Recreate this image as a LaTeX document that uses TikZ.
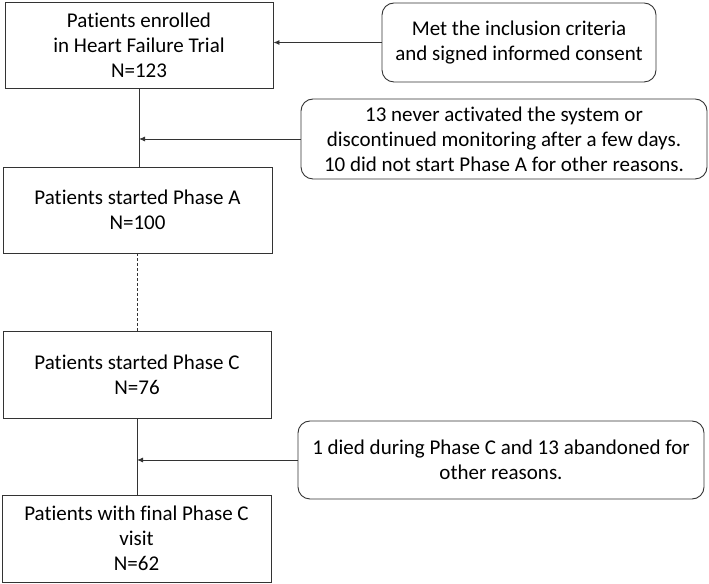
\documentclass[tikz,border=0pt]{standalone}
\usepackage{fontspec}
\setmainfont{Carlito}[Ligatures=CommonOff]
\usetikzlibrary{arrows.meta}
\begin{document}
\begin{tikzpicture}[x=1bp,y=1bp,
  every node/.style={font=\fontsize{21bp}{25bp}\selectfont, align=center, inner sep=0pt},
  mainbox/.style={draw=black!80, line width=0.9bp, rectangle},
  sidebox/.style={draw=black!80, line width=0.9bp, rectangle, rounded corners=12bp},
  conn/.style={draw=black!80, line width=0.9bp},
  arr/.style={conn, -{Latex[length=6bp,width=5bp]}}
]
\useasboundingbox (0,0) rectangle (709,584);
\node[mainbox, minimum width=268bp, minimum height=86bp] (b1) at (139,539) {Patients enrolled\\in Heart Failure Trial\\N=123};
\node[sidebox, minimum width=274bp, minimum height=79bp] (met) at (519,541.5) {Met the inclusion criteria\\and signed informed consent};
\node[sidebox, minimum width=406bp, minimum height=80bp] (ex1) at (504,445) {13 never activated the system or\\discontinued monitoring after a few days.\\10 did not start Phase A for other reasons.};
\node[mainbox, minimum width=269bp, minimum height=86bp] (b2) at (137.5,374) {Patients started Phase A\\N=100};
\node[mainbox, minimum width=268bp, minimum height=87bp] (b3) at (137,209.5) {Patients started Phase C\\N=76};
\node[sidebox, minimum width=406bp, minimum height=78bp] (ex2) at (501,124) {1 died during Phase C and 13 abandoned for\\other reasons.};
\node[mainbox, minimum width=269bp, minimum height=87bp] (b4) at (136.5,45.5) {Patients with final Phase C\\visit\\N=62};
\draw[arr] (met.west) -- (met.west -| b1.east);
\draw[conn] (b1.south) -- (b1.south |- b2.north);
\draw[arr] (ex1.west) -- (ex1.west -| b1.south);
\draw[conn, dash pattern=on 3bp off 2bp] (b2.south) -- (b2.south |- b3.north);
\draw[conn] (b3.south) -- (b3.south |- b4.north);
\draw[arr] (ex2.west) -- (ex2.west -| b3.south);
\end{tikzpicture}
\end{document}
